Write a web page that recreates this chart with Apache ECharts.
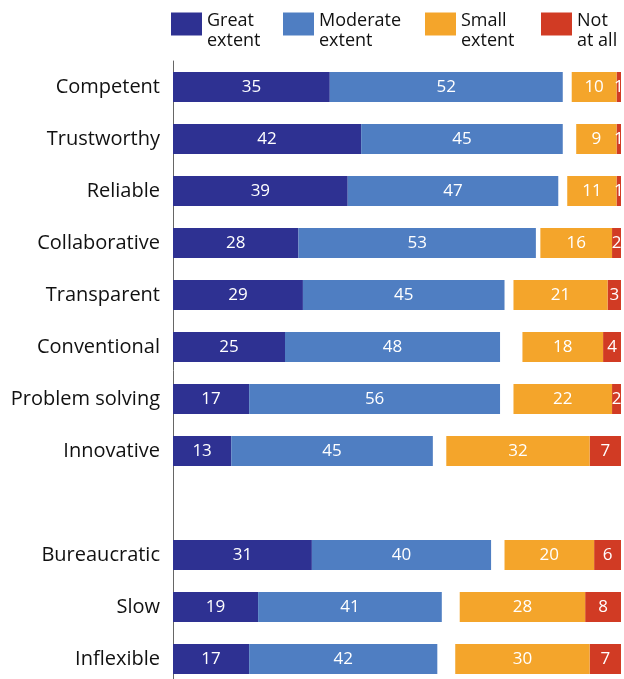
<!DOCTYPE html>
<html>
<head>
<meta charset="utf-8">
<script src="https://cdn.jsdelivr.net/npm/echarts@6/dist/echarts.min.js"></script>
<style>
  html, body { margin: 0; padding: 0; background: #fff; }
  #chart { width: 624px; height: 679px; }
</style>
</head>
<body>
<div id="chart"></div>
<script>
// Attributes (an empty entry leaves a gap between the two groups)
const categories = ['Competent', 'Trustworthy', 'Reliable', 'Collaborative', 'Transparent',
  'Conventional', 'Problem solving', 'Innovative', '', 'Bureaucratic', 'Slow', 'Inflexible'];

// Percent of respondents per answer
const greatExtent    = [35, 42, 39, 28, 29, 25, 17, 13, null, 31, 19, 17];
const moderateExtent = [52, 45, 47, 53, 45, 48, 56, 45, null, 40, 41, 42];
const smallExtent    = [10,  9, 11, 16, 21, 18, 22, 32, null, 20, 28, 30];
const notAtAll       = [ 1,  1,  1,  2,  3,  4,  2,  7, null,  6,  8,  7];

// Two-line legend captions
const legendLines = {
  'Great extent': ['Great', 'extent'],
  'Moderate extent': ['Moderate', 'extent'],
  'Small extent': ['Small', 'extent'],
  'Not at all': ['Not', 'at all']
};

const colors = {
  great: '#2e3192',
  moderate: '#4f7ec2',
  small: '#f4a52b',
  none: '#d13b24'
};

const FONT = '"Open Sans", "Noto Sans", sans-serif';

const chart = echarts.init(document.getElementById('chart'), null, { renderer: 'canvas' });

const barLabel = {
  show: true,
  position: 'inside',
  color: '#ffffff',
  fontFamily: FONT,
  fontSize: 17
};

function makeLegend(name, left) {
  return {
    data: [name],
    left: left,
    top: 3,
    padding: 0,
    itemWidth: 31,
    itemHeight: 23,
    icon: 'rect',
    selectedMode: false,
    // a short blank first line pushes the caption below the swatch's centre
    formatter: n => '{s| }\n{t|' + legendLines[n][0] + '}\n{t|' + legendLines[n][1] + '}',
    textStyle: {
      rich: {
        s: { fontSize: 2, lineHeight: 14 },
        t: { fontFamily: FONT, fontSize: 18, lineHeight: 20, color: '#111111' }
      }
    }
  };
}

const option = {
  animation: false,
  legend: [
    makeLegend('Great extent', 171),
    makeLegend('Moderate extent', 283),
    makeLegend('Small extent', 425),
    makeLegend('Not at all', 541)
  ],
  grid: {
    left: 173,
    top: 61,
    width: 448,
    height: 624,
    containLabel: false,
    outerBoundsMode: 'none'
  },
  xAxis: [
    { type: 'value', min: 0, max: 100, show: false },
    { type: 'value', min: 0, max: 100, inverse: true, show: false }
  ],
  yAxis: {
    type: 'category',
    data: categories,
    inverse: true,
    axisLine: { show: true, lineStyle: { color: '#666666', width: 1 } },
    axisTick: { show: false },
    axisLabel: {
      fontFamily: FONT,
      fontSize: 20,
      color: '#111111',
      margin: 13
    }
  },
  series: [
    {
      name: 'Great extent', type: 'bar', stack: 'positive', xAxisIndex: 0,
      data: greatExtent, barWidth: 30, barGap: '-100%',
      itemStyle: { color: colors.great }, label: barLabel
    },
    {
      name: 'Moderate extent', type: 'bar', stack: 'positive', xAxisIndex: 0,
      data: moderateExtent, barWidth: 30, barGap: '-100%',
      itemStyle: { color: colors.moderate }, label: barLabel
    },
    {
      // right-aligned stack: starts at the right edge and grows leftwards
      name: 'Not at all', type: 'bar', stack: 'negative', xAxisIndex: 1,
      data: notAtAll, barWidth: 30, barGap: '-100%',
      itemStyle: { color: colors.none }, label: barLabel
    },
    {
      name: 'Small extent', type: 'bar', stack: 'negative', xAxisIndex: 1,
      data: smallExtent, barWidth: 30, barGap: '-100%',
      itemStyle: { color: colors.small }, label: barLabel
    }
  ]
};

chart.setOption(option);
</script>
</body>
</html>
